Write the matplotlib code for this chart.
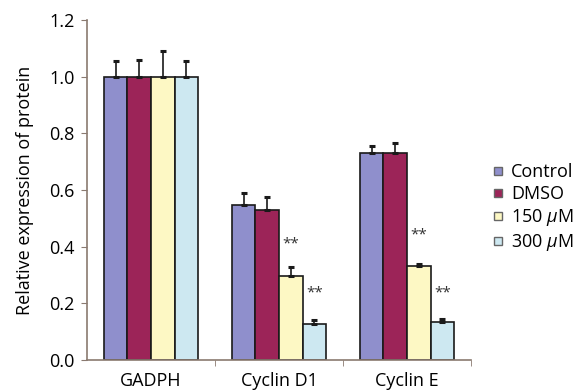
import numpy as np
import matplotlib
matplotlib.use("Agg")
import matplotlib.pyplot as plt
from matplotlib.lines import Line2D

plt.rcParams['font.family'] = ['Open Sans', 'DejaVu Sans']
plt.rcParams['mathtext.fontset'] = 'custom'
plt.rcParams['mathtext.it'] = 'Open Sans:italic'

# data
categories = ["GADPH", "Cyclin D1", "Cyclin E"]
groups = ["Control", "DMSO", r"150 $\mu$M", r"300 $\mu$M"]
colors = ["#8f8fcc", "#9c2458", "#fdf8c4", "#cde8f1"]
values = {
    "Control": [1.0, 0.547, 0.732],
    "DMSO": [1.0, 0.530, 0.732],
    "150": [1.0, 0.297, 0.333],
    "300": [1.0, 0.127, 0.135],
}
errors = {
    "Control": [0.055, 0.043, 0.024],
    "DMSO": [0.060, 0.045, 0.034],
    "150": [0.090, 0.031, 0.006],
    "300": [0.055, 0.013, 0.010],
}
# significance marks: (category index, group index, y)
stars = [(1, 2, 0.41), (1, 3, 0.235), (2, 2, 0.44), (2, 3, 0.235)]

fig = plt.figure(figsize=(5.85, 3.91), dpi=100)
ax = fig.add_axes([0.1487, 0.0793, 0.6564, 0.8695])

x = np.arange(len(categories))
w = 0.184
keys = list(values.keys())
for g, key in enumerate(keys):
    pos = x + (g - 1.5) * w
    ax.bar(pos, values[key], width=w, color=colors[g], edgecolor="#1a1a1a",
           linewidth=1.2, zorder=2)
    ax.errorbar(pos, values[key], yerr=[np.zeros(3), errors[key]], fmt="none",
                ecolor="#1a1a1a", elinewidth=1.2, capsize=2.5, capthick=2.2, zorder=3)

for c, g, y in stars:
    ax.text(c + (g - 1.5) * w, y, "**", ha="center", va="center", fontsize=11,
            color="#333333")

fs = 13
ax.set_xlim(-0.5, 2.5)
ax.set_ylim(0, 1.2)
ax.set_yticks(np.arange(0, 1.21, 0.2))
ax.set_yticklabels([f"{v:.1f}" for v in np.arange(0, 1.21, 0.2)], fontsize=fs)
ax.set_xticks(x)
ax.set_xticklabels(categories, fontsize=fs)
ax.tick_params(axis="x", length=0, pad=9)
ax.set_xticks([0.5, 1.5, 2.5], minor=True)
ax.tick_params(axis="x", which="minor", length=4, color="#8a7a70")
ax.tick_params(axis="y", length=4, color="#8a7a70", pad=5)
ax.set_ylabel("Relative expression of protein", fontsize=fs, labelpad=11)

for side in ["top", "right"]:
    ax.spines[side].set_visible(False)
for side in ["left", "bottom"]:
    ax.spines[side].set_color("#8a7a70")
    ax.spines[side].set_linewidth(1.2)

handles = [Line2D([], [], marker="s", linestyle="none", markersize=6,
                  markerfacecolor=colors[i], markeredgecolor="#666666",
                  markeredgewidth=1.0) for i in range(4)]
fig.legend(handles, groups, loc="center left", bbox_to_anchor=(0.826, 0.468),
           frameon=False, fontsize=fs, handlelength=0.6, handletextpad=0.45,
           labelspacing=0.22, borderpad=0)

fig.savefig("out.png", dpi=100)
